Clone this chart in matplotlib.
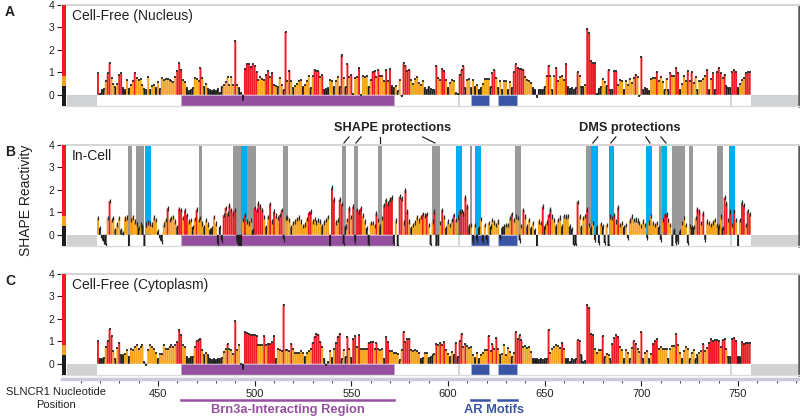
import numpy as np
import matplotlib
matplotlib.use("Agg")
import matplotlib.pyplot as plt
from matplotlib.patches import Rectangle
from matplotlib.transforms import blended_transform_factory
from matplotlib.ticker import MultipleLocator

plt.rcParams['font.family'] = ['Liberation Sans', 'DejaVu Sans']

# ── Data (SHAPE reactivity per nucleotide, first bar = nt 419) ────────────────
START_NT = 419

nucleus = [
    0.95, 0.05, 0.2, 0.25, 0.6, 0.95, 1.4, 0.75, 0.5, 0.35,
    0.5, 0.87, 0.95, 0.3, 0.2, 0.65, 0.25, 0.45, 0.6, 0.95,
    0.75, 0.65, 0.7, 0.45, 0.25, 0.2, 0.8, 0.2, 0.4, 0.45,
    0.3, 0.55, 0.25, 0.75, 0.65, 0.7, 0.7, 0.65, 0.6, 0.55,
    0.8, 1.05, 1.4, 1.1, 0.65, 0.55, 0.3, 0.15, 0.2, 0.3,
    0.75, 0.7, 0.6, 1.2, 0.75, 0.35, 0.5, 0.25, 0.2, 0.15,
    0.2, 0.15, 0.25, 0.1, 0.35, 0.45, 0.55, 0.8, 0.45, 0.8,
    0.45, 2.4, 0.45, 0.3, 0.1, -0.25, 1.15, 1.35, 1.35, 1.25,
    1.35, 1.3, 1.0, 0.65, 0.8, 0.7, 0.65, 0.87, 1.07, 0.8,
    0.97, 0.45, 0.4, 0.35, 0.75, 0.45, 0.22, 2.8, 0.6, 1.07,
    0.6, 0.3, 0.4, 0.5, 0.6, 0.67, 0.35, 0.45, 0.6, 0.85,
    0.3, 0.82, 1.12, 1.05, 1.05, 0.8, 0.87, 0.22, 0.25, 0.3,
    0.67, 0.6, 0.35, 0.6, 0.8, 0.35, 1.75, 0.75, 0.35, 1.35,
    0.8, 0.87, 0.05, 0.75, 0.8, 1.2, 0.0, 0.85, 0.8, 0.82,
    0.35, 0.67, 1.0, 1.07, 0.8, 1.1, 0.85, 0.85, 0.6, 1.1,
    0.6, 1.15, 0.38, 0.3, 0.4, 0.15, 0.67, -0.07, 1.4, 1.3,
    1.05, 1.12, 0.67, 0.5, 0.7, 0.8, 0.52, 0.45, 0.6, 0.3,
    0.22, 0.35, 0.25, 0.22, 0.2, 1.3, 0.75, 0.67, 1.15, 1.07,
    0.67, 0.3, 0.52, 0.67, 0.6, 0.07, 0.05, 0.9, 1.12, 1.27,
    0.3, 0.67, 0.7, 0.3, 0.67, 0.35, 0.45, 0.22, 0.3, 0.5,
    0.7, 0.7, 0.7, 0.35, 0.95, 1.1, 0.75, 0.3, 0.6, 0.22,
    0.6, 0.6, 0.22, 0.55, 0.3, 1.0, 1.35, 1.2, 1.17, 1.17,
    1.1, 0.8, 0.67, 0.6, 0.52, 0.3, 0.22, -0.1, 0.22, 0.22,
    0.22, 0.35, 0.85, 1.3, 0.85, 0.2, 0.82, 1.2, 0.6, 0.8,
    0.85, 0.67, 1.35, 0.35, 0.25, 0.3, 0.22, 0.3, 1.0, 0.85,
    0.35, 0.35, 0.45, 2.95, 2.75, 1.5, 1.42, 1.4, 0.05, 0.25,
    0.35, 0.72, 0.55, 0.37, 1.1, 0.2, 0.22, 1.05, 1.05, 0.45,
    0.67, 0.6, 0.22, 0.6, 0.45, 0.7, 0.52, 0.75, 0.9, 0.8,
    -0.05, 1.7, 0.22, 0.3, 0.25, 0.15, 0.7, 0.75, 0.75, 1.0,
    0.6, 0.8, 0.55, 0.22, 0.7, 0.2, 0.95, 0.82, 0.82, 1.2,
    0.97, 0.22, 0.5, 0.85, 0.6, 1.05, 0.6, 1.0, 0.52, 0.8,
    0.22, 0.6, 0.6, 0.7, 0.85, 1.1, 0.22, 0.7, 0.95, 0.22,
    1.0, 1.2, 0.95, 0.75, 0.9, 0.37, 0.3, 0.3, 1.0, 1.1,
    1.0, 0.3, 0.5, 0.67, 0.75, 0.95, 1.0, 1.0,
]

in_cell = [
    0.75, 0.3, -0.15, -0.3, -0.45, 0.75, 1.5, 0.65, 0.75, 0.22,
    0.45, 0.75, 0.22, 0.08, 0.72, 0.78, -0.5, 0.65, 0.78, 0.6,
    0.45, 0.3, 0.45, 0.38, -0.5, 0.45, 0.55, 0.5, 0.45, 0.78,
    0.65, 0.15, -0.15, -0.3, 0.45, 0.65, 1.18, 0.65, 0.75, 0.8,
    0.6, 0.35, 1.15, 1.1, 0.75, 1.08, 0.88, 0.6, 0.65, 0.35,
    0.7, 1.12, 0.65, 0.75, 0.5, 0.35, 0.65, 0.45, 0.22, 0.3,
    0.8, 0.5, -0.4, 0.35, -0.25, 0.87, 1.2, 0.95, 1.3, 1.1,
    0.95, 1.1, -0.3, -0.5, -0.5, 0.65, 0.87, 0.6, 0.5, 0.65,
    0.2, 1.2, 1.1, 1.4, 1.25, 1.1, 0.8, 0.35, 0.8, 1.37,
    0.6, 1.03, 0.85, 0.75, 0.88, 1.1, -0.2, 0.75, 0.78, 0.65,
    0.33, 0.52, 0.6, 0.7, 0.78, 0.6, 0.4, 0.45, 0.7, 0.98,
    1.03, 0.6, 0.7, 0.55, 0.66, 0.6, 0.37, 0.55, 0.66, 0.8,
    -0.5, 2.1, 1.57, 0.55, 0.66, 1.57, 1.37, -0.4, 0.37, 0.66,
    1.18, 0.8, 1.25, -0.3, 1.1, 1.03, 1.18, 0.85, 0.6, 0.3,
    -0.45, 0.52, 0.52, 0.4, 0.95, 0.66, 0.37, 0.74, 1.32, 1.55,
    1.4, 1.57, 1.66, -0.4, 0.63, -0.5, 1.7, 1.62, 0.55, 1.98,
    1.03, 0.6, 0.3, 0.44, 0.55, 0.78, 0.63, 0.8, 0.93, 0.85,
    0.93, 0.44, -0.45, 0.59, 1.03, -0.5, -0.45, 0.52, 1.1, 0.8,
    0.3, 0.59, 0.44, 0.66, 0.88, 0.66, 0.78, 1.03, 1.07, 0.95,
    1.66, 1.25, 0.37, 0.44, -0.3, 0.44, -0.25, 0.3, 0.7, -0.3,
    0.44, -0.25, 0.52, 0.37, 0.66, 0.55, 0.44, 0.59, -0.15, 0.3,
    0.37, 0.44, 0.44, 0.74, 0.93, 0.66, 0.81, 0.74, -0.25, 0.4,
    1.1, 0.81, 0.37, 0.66, 0.3, 0.52, 0.22, -0.5, 0.59, 0.52,
    1.25, 0.37, 0.55, 0.88, 1.13, 0.81, 0.66, 0.37, 0.66, 0.78,
    0.37, 0.84, 0.81, 0.84, 0.37, 0.25, -0.45, -0.45, 1.47, 0.81,
    0.34, 0.74, 0.84, 1.13, 0.44, 0.3, 0.52, -0.22, 0.34, -0.37,
    0.48, 0.37, -0.37, 0.44, -0.5, 0.81, 0.74, 0.88, 0.59, 1.22,
    0.44, 0.52, 0.34, 0.44, -0.15, 0.63, 0.81, 0.66, 0.69, 0.63,
    0.52, 0.4, 0.59, 0.44, -0.15, 0.55, 0.84, 0.52, 0.44, 0.52,
    0.34, -0.22, 0.66, 0.88, 0.9, 0.66, 0.44, -0.5, 0.22, -0.37,
    -0.3, 0.15, 0.52, 0.74, 0.44, -0.37, 0.4, 0.34, 0.34, 0.74,
    1.13, 1.03, 0.52, 0.95, -0.22, 0.59, 0.52, 0.44, 0.55, 0.66,
    0.44, 0.37, 0.81, 0.3, 1.66, 1.4, 0.66, 1.03, 0.44, 1.07,
    0.66, -0.5, 0.66, 1.43, 1.32, 0.44, 1.07, 0.93,
]

cytoplasm = [
    1.0, 0.22, 0.22, 0.25, 0.75, 1.0, 1.53, 1.24, 0.55, 0.2,
    0.7, 0.94, 0.37, 0.37, 0.45, 0.6, 0.3, 0.64, 0.6, 0.75,
    0.82, 0.67, 0.75, 0.82, 0.07, -0.05, 0.6, 0.82, 0.75, 0.64,
    0.49, 0.22, 0.45, 0.45, 0.82, 0.67, 0.64, 0.75, 0.85, 0.75,
    0.82, 0.97, 1.5, 1.27, 0.82, 0.75, 0.3, 0.22, 0.3, 0.3,
    0.75, 1.0, 1.04, 1.12, 0.6, 0.37, 0.49, 0.37, 0.22, 0.15,
    0.2, 0.15, 0.22, 0.2, 0.25, 0.52, 0.67, 0.87, 0.67, 0.6,
    0.45, 1.9, 0.6, 0.82, 0.0, -0.22, 1.42, 1.37, 1.34, 1.3,
    1.27, 1.27, 1.24, 0.85, 0.82, 0.85, 1.24, 0.82, 0.9, 0.87,
    0.97, 1.24, 0.2, 0.67, 0.6, 0.55, 2.64, 0.6, 0.6, 0.55,
    0.87, 0.67, 0.49, 0.49, 0.49, 0.55, 0.49, 0.3, 0.49, 0.55,
    0.67, 0.94, 1.2, 1.34, 1.3, 0.97, 0.75, 0.22, -0.05, 0.1,
    0.55, 0.25, 0.64, 0.94, 1.2, 1.34, 0.2, 0.6, 0.3, 1.2,
    0.67, 0.25, 1.09, 1.24, 0.75, 1.27, 0.64, 0.67, 0.67, 0.67,
    0.94, 0.97, 0.97, 0.67, 0.94, 0.64, 0.6, 0.64, 0.22, 1.2,
    0.97, 0.55, 0.55, 0.49, 0.5, 0.45, 0.15, 0.6, 1.42, 0.97,
    1.09, 1.12, 0.6, 0.55, 0.6, 0.55, 0.5, 0.22, 0.25, 0.5,
    0.5, 0.25, 0.3, 0.37, 0.45, 0.9, 0.82, 0.94, 0.82, 0.97,
    0.6, 0.45, 0.3, 0.52, 0.37, 0.94, 0.3, 1.0, 1.34, 0.75,
    0.9, 0.78, 0.7, 0.75, 0.4, 0.25, 0.49, 0.2, 0.4, 0.49,
    0.6, 0.6, 1.24, 0.55, 0.87, 0.67, 1.15, 0.64, 0.37, 0.45,
    0.82, 0.4, 0.7, 0.52, 0.3, 0.49, 1.42, 1.09, 1.27, 1.04,
    0.75, 0.78, 0.7, 0.75, 0.52, 0.22, 0.2, 0.22, 0.15, 0.22,
    0.15, 0.22, 0.22, 1.52, 0.5, 0.67, 0.75, 0.85, 0.78, 0.7,
    0.94, 0.67, 0.22, 0.2, 0.1, 0.22, 0.15, 0.2, 1.04, 1.0,
    0.37, 0.07, 0.12, 2.61, 2.5, 1.34, 1.3, 0.67, 0.5, 0.6,
    0.6, 1.24, 0.3, 0.45, 0.4, 0.2, 0.9, 1.15, 1.27, 1.2,
    0.75, 0.6, 0.22, 0.6, 0.5, 0.22, 0.7, 1.0, 0.9, 0.67,
    0.52, 1.42, 0.22, 0.49, 0.55, 0.22, 0.45, 0.87, 1.0, 1.09,
    0.67, 0.75, 0.67, 0.67, 0.64, 0.22, 0.64, 0.78, 0.78, 1.34,
    0.82, 0.49, 0.22, 0.55, 0.75, 0.64, 0.22, 0.49, 0.6, 0.2,
    0.37, 0.49, 0.55, 0.87, 0.55, 0.7, 0.94, 1.09, 1.0, 1.04,
    1.04, 1.0, 0.75, 1.04, 1.09, 0.67, 0.3, 0.3, 1.09, 1.15,
    1.0, 0.3, 0.3, 0.97, 0.9, 0.94, 0.94, 0.94,
]

# letter, title, values, error half-length, error line width
PANELS = [
    ("A", "Cell-Free (Nucleus)", nucleus, 0.045, 1.3),
    ("B", "In-Cell", in_cell, 0.1, 0.9),
    ("C", "Cell-Free (Cytoplasm)", cytoplasm, 0.045, 1.3),
]

# colour scale for reactivity
SCALE_EDGES = [-0.5, 0.4, 0.85, 4.0]

# annotation track
NO_DATA = [(403.0, 418.5), (756.5, 781.5)]
BREAKS = [605.5, 746.5]
BRN3A = (462.0, 572.0)
AR_MOTIFS = [(612.0, 621.0), (626.0, 635.5)]

# in-cell protections
SHAPE_PROT = [(434.5, 436.5), (438.5, 443.0), (471.5, 473.0), (489.0, 493.0),
              (496.0, 500.5), (514.5, 517.5), (545.0, 547.5), (551.5, 553.5),
              (564.0, 566.0), (591.5, 596.0), (611.5, 612.5), (634.5, 637.5),
              (671.5, 674.0), (709.0, 710.5), (716.0, 722.5), (724.5, 726.5),
              (739.0, 742.0)]
DMS_PROT = [(443.5, 446.5), (493.0, 496.0), (604.0, 607.0), (614.0, 617.0),
            (674.0, 677.5), (683.0, 686.0), (702.5, 705.5), (710.5, 713.5),
            (745.5, 748.5)]
SHAPE_LEADERS = [(546.2, 548.8), (552.4, 555.0), (564.8, 564.8), (593.2, 586.9)]
DMS_LEADERS = [(674.9, 677.5), (684.2, 686.8), (704.4, 702.3), (712.7, 710.1)]

XLIM = (400.4, 781.5)

# ── Colours ───────────────────────────────────────────────────────────────────
RED = "#ed1c24"
ORANGE = "#f7a21b"
BLACK = "#1c1c1c"
BAND_GREY = "#999999"
CYAN = "#00aeef"
PURPLE = "#94509e"
BLUE = "#3a55a5"
TRACK_GREY = "#d1d2d4"
TXT = "#222222"


def bar_colours(v):
    return [RED if x > 0.85 else (ORANGE if x >= 0.4 else BLACK) for x in v]


# ── Figure ────────────────────────────────────────────────────────────────────
fig = plt.figure(figsize=(8.0, 4.19), dpi=100, facecolor="white")
L, W = 62 / 800, 737 / 800
H = 101 / 419
TOPS = [5, 145, 274]

axes = []
for (letter, title, vals, err, elw), top in zip(PANELS, TOPS):
    ax = fig.add_axes([L, 1 - (top + 101) / 419, W, H])
    axes.append(ax)
    ax.set_xlim(*XLIM)
    ax.set_ylim(-0.5, 4.0)

    # annotation track (-0.5 .. 0)
    for a, b in NO_DATA:
        ax.add_patch(Rectangle((a, -0.5), b - a, 0.5, facecolor=TRACK_GREY,
                               edgecolor="none", zorder=1))
    for xb in BREAKS:
        ax.plot([xb, xb], [-0.5, 0], color=TRACK_GREY, lw=1.3, zorder=1)
    ax.add_patch(Rectangle((BRN3A[0], -0.5), BRN3A[1] - BRN3A[0], 0.5,
                           facecolor=PURPLE, edgecolor="#c9a6cc", lw=0.6, zorder=1))
    for a, b in AR_MOTIFS:
        ax.add_patch(Rectangle((a, -0.5), b - a, 0.5, facecolor=BLUE,
                               edgecolor="#a9b4d8", lw=0.6, zorder=1))

    # colour scale bar at the left edge
    for lo, hi, c in zip(SCALE_EDGES[:-1], SCALE_EDGES[1:], [BLACK, ORANGE, RED]):
        ax.bar(XLIM[0] + 1.15, hi - lo, bottom=lo, width=2.3, color=c,
               linewidth=0, zorder=3)

    # reactivity bars
    pos = np.arange(START_NT, START_NT + len(vals))
    v = np.array(vals, dtype=float)
    bars = ax.bar(pos, v, width=1.0, color=bar_colours(v), linewidth=0,
                  zorder=3)
    for p in bars:
        p.set_snap(False)
    ax.errorbar(pos, v, yerr=err, fmt="none", ecolor="#2a2a2a",
                elinewidth=elw, capsize=0, zorder=4)

    # frame
    ax.spines["left"].set_visible(False)
    ax.spines["top"].set_color("#d6d6d6")
    ax.spines["top"].set_linewidth(1.5)
    ax.spines["right"].set_color("#5a5a5a")
    ax.spines["right"].set_linewidth(1.8)
    ax.spines["bottom"].set_color("#dcdcdc")
    ax.spines["bottom"].set_linewidth(1.0)
    ax.set_xticks([])
    ax.set_yticks([0, 1, 2, 3, 4])
    ax.tick_params(axis="y", length=3.5, width=0.8, pad=2, labelsize=7.5,
                   colors=TXT)

    ax.text(0.0136, 0.895, title, transform=ax.transAxes, fontsize=10,
            color=TXT, ha="left", va="center")
    fig.text(5 / 800, 1 - (top + 7) / 419, letter, fontsize=10,
             fontweight="bold", color=TXT, ha="left", va="center")

# protection bands on the in-cell panel
ax_b = axes[1]
for a, b in SHAPE_PROT:
    ax_b.axvspan(a, b, ymin=0.5 / 4.5, ymax=1, color=BAND_GREY, lw=0, zorder=2)
for a, b in DMS_PROT:
    ax_b.axvspan(a, b, ymin=0.5 / 4.5, ymax=1, color=CYAN, lw=0, zorder=2)
for x0, x1 in SHAPE_LEADERS + DMS_LEADERS:
    ax_b.plot([x0, x1], [4.09, 4.36], color=TXT, lw=0.9, clip_on=False)
ax_b.text(571.5, 4.76, "SHAPE protections", fontsize=9.2, fontweight="bold",
          color=TXT, ha="center", va="center", clip_on=False)
ax_b.text(694.0, 4.76, "DMS protections", fontsize=9.2, fontweight="bold",
          color=TXT, ha="center", va="center", clip_on=False)
ax_b.set_ylabel("SHAPE Reactivity", fontsize=10, color=TXT, labelpad=6)
ax_b.yaxis.set_label_coords(-0.04, 0.45)

# ── Nucleotide position axis ─────────────────────────────────────────────────
ax_x = fig.add_axes([L, 1 - 379 / 419, W, 0.0001])
ax_x.set_xlim(*XLIM)
ax_x.set_yticks([])
for s in ("left", "right", "top"):
    ax_x.spines[s].set_visible(False)
ax_x.spines["bottom"].set_color("#c9cbdc")
ax_x.spines["bottom"].set_linewidth(2.5)
ax_x.xaxis.set_major_locator(MultipleLocator(50))
ax_x.xaxis.set_minor_locator(MultipleLocator(10))
ax_x.set_xticks([450, 500, 550, 600, 650, 700, 750])
ax_x.tick_params(axis="x", which="major", length=5, width=0.8, pad=2,
                 labelsize=8, colors=TXT)
ax_x.tick_params(axis="x", which="minor", length=3, width=0.7, colors="#444444")

fig.text(56 / 800, 1 - 398.5 / 419, "SLNCR1 Nucleotide\nPosition", fontsize=8,
         color=TXT, ha="center", va="center", linespacing=1.3)

tr = blended_transform_factory(ax_x.transData, fig.transFigure)
y_line = 1 - 400 / 419
y_txt = 1 - 410 / 419
ax_x.plot(BRN3A, [y_line, y_line], transform=tr, color=PURPLE, lw=1.8,
          clip_on=False)
ax_x.text(sum(BRN3A) / 2, y_txt, "Brn3a-Interacting Region", transform=tr,
          fontsize=9.3, fontweight="bold", color=PURPLE, ha="center", va="center")
for a, b in AR_MOTIFS:
    ax_x.plot([a, b], [y_line, y_line], transform=tr, color=BLUE, lw=1.8,
              clip_on=False)
ax_x.text((AR_MOTIFS[0][0] + AR_MOTIFS[-1][1]) / 2, y_txt, "AR Motifs",
          transform=tr, fontsize=9.3, fontweight="bold", color=BLUE,
          ha="center", va="center")

fig.savefig("out.png", dpi=100, facecolor="white")
